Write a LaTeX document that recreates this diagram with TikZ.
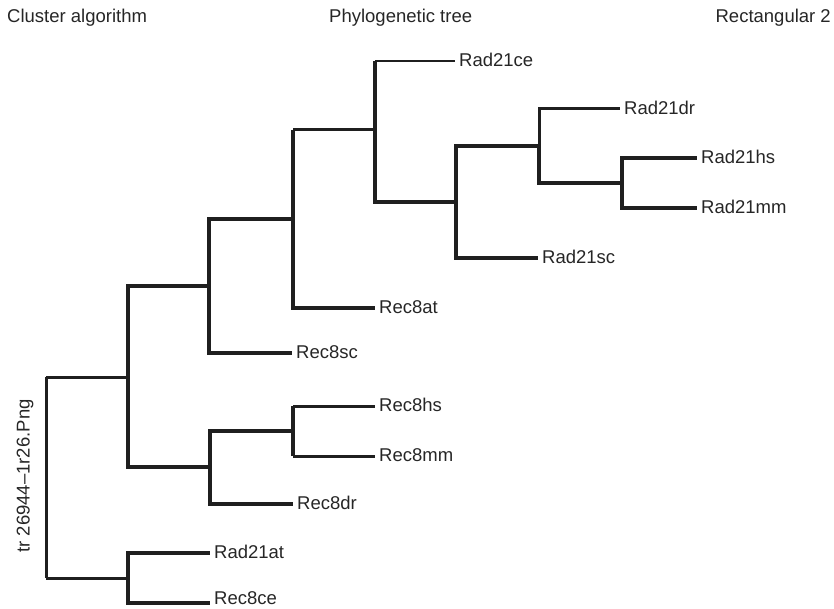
\documentclass[tikz,border=0pt]{standalone}
\usepackage{fontspec}
\setmainfont{Liberation Sans}
\usepackage{tikz}

\begin{document}
\begin{tikzpicture}[x=1pt, y=-1pt,
    branch/.style={draw=black!88, line width=3.3pt},
    midbranch/.style={draw=black!88, line width=3pt},
    twig/.style={draw=black!88, line width=2.2pt},
    leaf/.style={anchor=west, inner sep=0pt, xshift=4pt, yshift=1pt, text=black!85, font=\fontsize{18.5}{21}\selectfont},
    heading/.style={inner sep=0pt, text=black!85, font=\fontsize{18.5}{21}\selectfont}]
    \useasboundingbox (0, 0) rectangle (834, 609);

    % Headings
    \node[heading, anchor=base west] (cluster) at (7, 23) {Cluster algorithm};
    \node[heading, anchor=base west] (phylo) at (329, 23) {Phylogenetic tree};
    \node[heading, anchor=base east] (rect) at (831, 23) {Rectangular 2};
    \node[heading, rotate=90] (file) at (25, 476) {tr 26944--1r26.Png};

    % Leaf ends
    \coordinate (ce21) at (455, 61);
    \coordinate (dr21) at (620, 109);
    \coordinate (hs21) at (697, 158);
    \coordinate (mm21) at (697, 208);
    \coordinate (sc21) at (538, 258);
    \coordinate (at8) at (375, 308);
    \coordinate (sc8) at (292, 353);
    \coordinate (hs8) at (375, 406);
    \coordinate (mm8) at (375, 456);
    \coordinate (dr8) at (293, 504);
    \coordinate (at21) at (210, 553);
    \coordinate (ce8) at (210, 603);

    % Leaf labels
    \node[leaf] (ce21l) at (ce21) {Rad21ce};
    \node[leaf] (dr21l) at (dr21) {Rad21dr};
    \node[leaf] (hs21l) at (hs21) {Rad21hs};
    \node[leaf] (mm21l) at (mm21) {Rad21mm};
    \node[leaf] (sc21l) at (sc21) {Rad21sc};
    \node[leaf] (at8l) at (at8) {Rec8at};
    \node[leaf] (sc8l) at (sc8) {Rec8sc};
    \node[leaf] (hs8l) at (hs8) {Rec8hs};
    \node[leaf] (mm8l) at (mm8) {Rec8mm};
    \node[leaf] (dr8l) at (dr8) {Rec8dr};
    \node[leaf] (at21l) at (at21) {Rad21at};
    \node[leaf, yshift=4pt] (ce8l) at (ce8) {Rec8ce};

    % Internal nodes
    \coordinate (n1) at (622, 183);
    \coordinate (n2) at (539, 146);
    \coordinate (n3) at (456, 202);
    \coordinate (n4) at (375, 130);
    \coordinate (n5) at (293, 219);
    \coordinate (n6) at (209, 286);
    \coordinate (n7) at (293, 431);
    \coordinate (n8) at (210, 467);
    \coordinate (n9) at (128, 377);
    \coordinate (n10) at (128, 578);
    \coordinate (root) at (46, 478);

    % Rad21 clade
    \draw[branch] (n1) |- (hs21);
    \draw[branch] (n1) |- (mm21);
    \draw[midbranch] (n2) |- (dr21);
    \draw[branch] (n2) |- (n1);
    \draw[branch] (n3) |- (n2);
    \draw[branch] (n3) |- (sc21);
    \draw[branch] (n4) -- (n4 |- ce21);
    \draw[twig] (n4 |- ce21) -- (ce21);
    \draw[branch] (n4) |- (n3);

    % Rec8 plant / yeast
    \draw[branch] (n5) -- (n5 |- n4);
    \draw[midbranch] (n5 |- n4) -- (n4);
    \draw[branch] (n5) |- (at8);
    \draw[branch] (n6) |- (n5);
    \draw[branch] (n6) |- (sc8);

    % Rec8 vertebrates
    \draw[branch] (n7) -- (n7 |- hs8);
    \draw[midbranch] (n7 |- hs8) -- (hs8);
    \draw[branch] (n7) -- (n7 |- mm8);
    \draw[midbranch] (n7 |- mm8) -- (mm8);
    \draw[branch] (n8) |- (n7);
    \draw[branch] (n8) |- (dr8);
    \draw[branch] (n9) |- (n6);
    \draw[branch] (n9) |- (n8);

    % Basal pair and root
    \draw[branch] (n10) |- (at21);
    \draw[branch] (n10) |- (ce8);
    \draw[midbranch] (root |- n9) -- (root |- n10);
    \draw[midbranch] (root |- n9) -- (n9);
    \draw[midbranch] (root |- n10) -- (n10);

\end{tikzpicture}
\end{document}
